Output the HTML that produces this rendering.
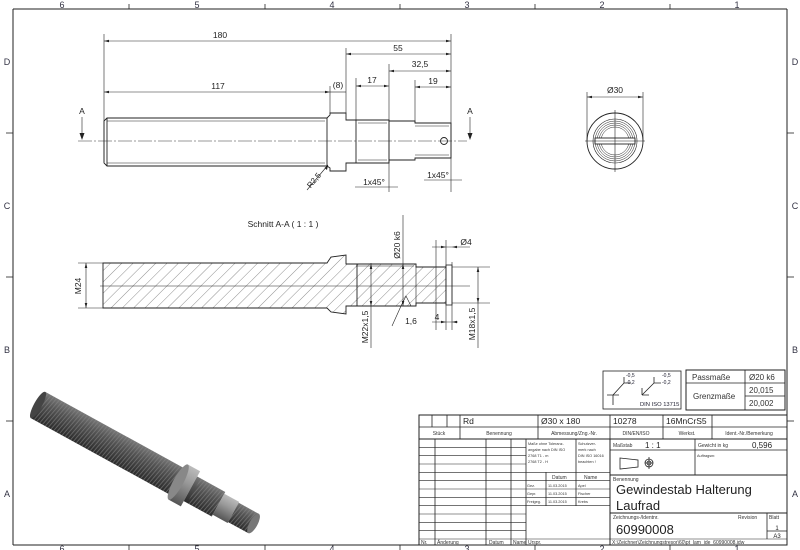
<!DOCTYPE html>
<html><head><meta charset="utf-8"><style>
html,body{margin:0;padding:0;background:#fff;}
svg{display:block;font-family:"Liberation Sans",sans-serif;}
</style></head><body>
<svg width="800" height="550" viewBox="0 0 800 550" xmlns="http://www.w3.org/2000/svg">
<defs>
<pattern id="hatch" patternUnits="userSpaceOnUse" width="8" height="8" patternTransform="rotate(45)">
<line x1="0" y1="0" x2="0" y2="8" stroke="#444" stroke-width="0.6"/>
</pattern>
<linearGradient id="rod" x1="0" y1="0" x2="0" y2="1">
<stop offset="0" stop-color="#777"/><stop offset="0.35" stop-color="#555"/><stop offset="1" stop-color="#2a2a2a"/>
</linearGradient>
<linearGradient id="rodl" x1="0" y1="0" x2="0" y2="1">
<stop offset="0" stop-color="#bbb"/><stop offset="0.4" stop-color="#999"/><stop offset="1" stop-color="#555"/>
</linearGradient>
<pattern id="thr" patternUnits="userSpaceOnUse" width="3.2" height="40" patternTransform="skewX(-12)">
<rect width="3.2" height="40" fill="none"/><line x1="0.5" y1="0" x2="0.5" y2="40" stroke="#888" stroke-width="0.9" opacity="0.6"/>
</pattern>
</defs>
<g stroke="#222" fill="none" stroke-width="1">
<line x1="13" y1="9" x2="787" y2="9"/>
<line x1="13" y1="9" x2="13" y2="545"/>
<line x1="787" y1="9" x2="787" y2="545"/>
<line x1="13" y1="545" x2="787" y2="545"/>
<g stroke-width="0.8">
<line x1="129" y1="4" x2="129" y2="9"/><line x1="265" y1="4" x2="265" y2="9"/><line x1="400" y1="4" x2="400" y2="9"/><line x1="535" y1="4" x2="535" y2="9"/><line x1="670" y1="4" x2="670" y2="9"/>
<line x1="129" y1="545" x2="129" y2="550"/><line x1="265" y1="545" x2="265" y2="550"/><line x1="400" y1="545" x2="400" y2="550"/><line x1="535" y1="545" x2="535" y2="550"/><line x1="670" y1="545" x2="670" y2="550"/>
<line x1="6" y1="133" x2="13" y2="133"/><line x1="6" y1="277" x2="13" y2="277"/><line x1="6" y1="421" x2="13" y2="421"/>
<line x1="787" y1="133" x2="794" y2="133"/><line x1="787" y1="277" x2="794" y2="277"/><line x1="787" y1="421" x2="794" y2="421"/>
</g>
</g>
<g font-size="9" fill="#334" text-anchor="middle">
<text x="62" y="8">6</text><text x="197" y="8">5</text><text x="332" y="8">4</text><text x="467" y="8">3</text><text x="602" y="8">2</text><text x="737" y="8">1</text>
<text x="62" y="552">6</text><text x="197" y="552">5</text><text x="332" y="552">4</text><text x="467" y="552">3</text><text x="602" y="552">2</text><text x="737" y="552">1</text>
<text x="7" y="65">D</text><text x="7" y="209">C</text><text x="7" y="353">B</text><text x="7" y="497">A</text>
<text x="795" y="65">D</text><text x="795" y="209">C</text><text x="795" y="353">B</text><text x="795" y="497">A</text>
</g>

<g stroke="#222" fill="none" stroke-width="0.9">
<path d="M104,121 L107,118 L327,118 L330,115 L330,113 L346,113 L346,120 L389,120 L389,121 L415,121 L415,123 L451,123 L451,158 L415,158 L415,160 L389,160 L389,163 L346,163 L346,171 L330,171 L330,168 L327,166 L107,166 L104,163 Z"/>
<line x1="107" y1="118" x2="107" y2="166"/><line x1="327" y1="118" x2="327" y2="166"/>
<line x1="107" y1="121" x2="325" y2="121" stroke-width="0.5"/><line x1="107" y1="163" x2="325" y2="163" stroke-width="0.5"/>
<line x1="356" y1="120" x2="356" y2="163"/><line x1="389" y1="120" x2="389" y2="163"/>
<line x1="358" y1="123" x2="387" y2="123" stroke-width="0.5"/><line x1="358" y1="160" x2="387" y2="160" stroke-width="0.5"/>
<line x1="415" y1="126" x2="449" y2="126" stroke-width="0.5"/><line x1="415" y1="155" x2="449" y2="155" stroke-width="0.5"/>
<circle cx="444" cy="141" r="3.5"/>
</g>
<line x1="78" y1="141" x2="467" y2="141" stroke="#333" stroke-width="0.6" stroke-dasharray="14,2,2,2"/>
<g stroke="#222" stroke-width="0.6" fill="none">
<line x1="104" y1="34" x2="104" y2="162"/><line x1="451" y1="34" x2="451" y2="192"/>
<line x1="346" y1="48" x2="346" y2="113"/><line x1="389" y1="64" x2="389" y2="192"/>
<line x1="356" y1="78" x2="356" y2="120"/><line x1="415" y1="80" x2="415" y2="123"/><line x1="330" y1="86" x2="330" y2="113"/>
<line x1="104" y1="41" x2="451" y2="41"/><line x1="346" y1="54" x2="451" y2="54"/><line x1="389" y1="71" x2="451" y2="71"/>
<line x1="356" y1="86" x2="389" y2="86"/><line x1="415" y1="87" x2="451" y2="87"/><line x1="104" y1="92" x2="330" y2="92"/><line x1="330" y1="92" x2="346" y2="92"/>
<line x1="355" y1="187" x2="398" y2="187"/>
<line x1="424" y1="180" x2="462" y2="180"/>
<line x1="307" y1="190" x2="328" y2="165"/>
<line x1="82" y1="117" x2="82" y2="136"/><line x1="470" y1="117" x2="470" y2="136"/>
</g>
<g fill="#222">
<path d="M82,140 l-2.5,-7 h5z"/><path d="M470,140 l-2.5,-7 h5z"/>
<path d="M104,41 l5,-1.3 v2.6z"/><path d="M451,41 l-5,-1.3 v2.6z"/>
<path d="M346,54 l5,-1.3 v2.6z"/><path d="M451,54 l-5,-1.3 v2.6z"/>
<path d="M389,71 l5,-1.3 v2.6z"/><path d="M451,71 l-5,-1.3 v2.6z"/>
<path d="M356,86 l5,-1.3 v2.6z"/><path d="M389,86 l-5,-1.3 v2.6z"/>
<path d="M415,87 l5,-1.3 v2.6z"/><path d="M451,87 l-5,-1.3 v2.6z"/>
<path d="M104,92 l5,-1.3 v2.6z"/><path d="M330,92 l-5,-1.3 v2.6z"/>
<path d="M328,165 l-1,5 l-2.5,-2z"/>
</g>
<g font-size="8.5" fill="#222" text-anchor="middle">
<text x="220" y="38">180</text><text x="398" y="51">55</text><text x="420" y="67">32,5</text>
<text x="372" y="83">17</text><text x="433" y="84">19</text><text x="218" y="89">117</text><text x="338" y="88">(8)</text>
<text x="82" y="114">A</text><text x="470" y="114">A</text>
<text x="374" y="185">1x45°</text><text x="438" y="178">1x45°</text>
<text transform="translate(316,182) rotate(-50)" font-size="8">R2,5</text>
</g>

<g stroke="#222" fill="none" stroke-width="0.9">
<circle cx="615" cy="141" r="28"/>
<circle cx="615" cy="141" r="22" stroke-width="0.6"/>
<circle cx="615" cy="141" r="20" stroke-width="0.5"/>
<circle cx="615" cy="141" r="18" stroke-width="0.5"/>
<circle cx="615" cy="141" r="16" stroke-width="0.5"/>
<circle cx="615" cy="141" r="14" stroke-width="0.5"/>
<rect x="595" y="138" width="40" height="6" fill="#fff"/>
<line x1="585" y1="141" x2="645" y2="141" stroke-width="0.6"/>
<line x1="615" y1="110" x2="615" y2="172" stroke-width="0.6"/>
<line x1="587" y1="92" x2="587" y2="141" stroke-width="0.6"/><line x1="643" y1="92" x2="643" y2="141" stroke-width="0.6"/>
<line x1="587" y1="97" x2="643" y2="97" stroke-width="0.6"/>
</g>
<g fill="#222"><path d="M587,97 l5,-1.3 v2.6z"/><path d="M643,97 l-5,-1.3 v2.6z"/></g>
<text x="615" y="93" font-size="8.5" text-anchor="middle" fill="#222">Ø30</text>

<text x="283" y="227" font-size="8.5" text-anchor="middle" fill="#222">Schnitt A-A ( 1 : 1 )</text>
<path d="M103,263 L327,263 L331,257 L346,255 L346,264 L416,264 L416,267 L446,267 L446,303 L416,303 L416,306 L346,306 L346,314 L331,312 L327,308 L103,308 Z" fill="url(#hatch)" stroke="#222" stroke-width="0.9"/>
<rect x="446" y="265" width="6" height="40" fill="#fff" stroke="#222" stroke-width="0.8"/>
<g stroke="#222" stroke-width="0.6" fill="none">
<line x1="357" y1="264" x2="357" y2="306" stroke-width="0.9"/>
<line x1="416" y1="264" x2="416" y2="306"/>
<line x1="356" y1="266" x2="414" y2="266"/>
<line x1="100" y1="286" x2="470" y2="286"/>
<line x1="78" y1="263" x2="103" y2="263"/><line x1="78" y1="308" x2="103" y2="308"/><line x1="86" y1="263" x2="86" y2="308"/>
<line x1="403" y1="215" x2="403" y2="306"/>
<line x1="371" y1="263" x2="371" y2="348"/>
<line x1="452" y1="267" x2="490" y2="267"/><line x1="452" y1="303" x2="490" y2="303"/><line x1="478" y1="267" x2="478" y2="348"/>
<line x1="436" y1="240" x2="436" y2="330"/><line x1="446" y1="240" x2="446" y2="330"/><line x1="452" y1="262" x2="452" y2="330"/>
<line x1="432" y1="247" x2="470" y2="247"/><line x1="432" y1="322" x2="458" y2="322"/>
<path d="M406,296 L401,306 L411,306 Z"/><line x1="401" y1="306" x2="392" y2="326"/>
</g>
<g fill="#222">
<path d="M86,263 l-1.3,5 h2.6z"/><path d="M86,308 l-1.3,-5 h2.6z"/>
<path d="M403,264 l-1.3,5 h2.6z"/><path d="M403,306 l-1.3,-5 h2.6z"/>
<path d="M371,264 l-1.3,5 h2.6z"/><path d="M371,306 l-1.3,-5 h2.6z"/>
<path d="M478,267 l-1.3,5 h2.6z"/><path d="M478,303 l-1.3,-5 h2.6z"/>
<path d="M446,247 l-5,-1.3 v2.6z"/><path d="M452,247 l5,-1.3 v2.6z"/>
<path d="M446,322 l-5,-1.3 v2.6z"/><path d="M452,322 l5,-1.3 v2.6z"/>
</g>
<g font-size="8.5" fill="#222" text-anchor="middle">
<text transform="translate(81,286) rotate(-90)">M24</text>
<text transform="translate(400,245) rotate(-90)">Ø20 k6</text>
<text transform="translate(368,327) rotate(-90)">M22x1,5</text>
<text transform="translate(475,324) rotate(-90)">M18x1,5</text>
<text x="466" y="245">Ø4</text><text x="437" y="320">4</text><text x="411" y="324">1,6</text>
</g>

<g transform="translate(38,405) rotate(28.8)">
<rect x="0" y="-15" width="162" height="30" fill="url(#rod)"/>
<rect x="0" y="-15" width="162" height="30" fill="url(#thr)"/>
<ellipse cx="0" cy="0" rx="4" ry="15" fill="#444"/>
<rect x="160" y="-20" width="14" height="40" fill="url(#rodl)"/>
<ellipse cx="160" cy="0" rx="5" ry="20" fill="#888"/>
<rect x="174" y="-14" width="32" height="28" fill="url(#rod)"/>
<rect x="178" y="-14" width="28" height="28" fill="url(#thr)"/>
<rect x="206" y="-12" width="17" height="24" fill="url(#rodl)"/>
<rect x="223" y="-11" width="23" height="22" fill="url(#rod)"/>
<rect x="223" y="-11" width="23" height="22" fill="url(#thr)"/>
<ellipse cx="246" cy="0" rx="4" ry="11" fill="#777"/>
</g>

<g stroke="#222" fill="none" stroke-width="0.8">
<rect x="603" y="371" width="78" height="38"/>
<path d="M607,395 h12 m-6,0 v10 m0,-10 l11,-12 v-6 m0,6 h7"/>
<path d="M642,395 l12,-12 m-12,12 v-7 m0,7 h7 m5,-12 v-6 m0,6 h7" />
<rect x="686" y="370" width="99" height="40" stroke-width="1"/>
<line x1="745" y1="370" x2="745" y2="410"/><line x1="686" y1="383" x2="785" y2="383"/><line x1="745" y1="396" x2="785" y2="396"/>
</g>
<g font-size="5" fill="#223"><text x="626" y="377">-0,5</text><text x="626" y="384">-0,2</text><text x="662" y="377">-0,5</text><text x="662" y="384">-0,2</text></g>
<text x="640" y="406" font-size="5.8" fill="#223">DIN ISO 13715</text>
<g font-size="8" fill="#333">
<text x="692" y="380">Passmaße</text><text x="693" y="399">Grenzmaße</text>
<text x="749" y="380">Ø20 k6</text><text x="749" y="393">20,015</text><text x="749" y="406">20,002</text>
</g>

<g stroke="#222" fill="none" stroke-width="0.8">
<rect x="419" y="415" width="368" height="130" stroke-width="1"/>
<line x1="419" y1="427" x2="787" y2="427"/><line x1="419" y1="439" x2="787" y2="439" stroke-width="1"/>
<line x1="432" y1="415" x2="432" y2="427"/><line x1="447" y1="415" x2="447" y2="427"/>
<line x1="460" y1="415" x2="460" y2="439"/><line x1="538" y1="415" x2="538" y2="439"/><line x1="610" y1="415" x2="610" y2="439"/><line x1="663" y1="415" x2="663" y2="439"/><line x1="712" y1="415" x2="712" y2="439"/>
<g stroke-width="0.6">
<line x1="419" y1="447.3" x2="526" y2="447.3"/><line x1="419" y1="455.7" x2="526" y2="455.7"/><line x1="419" y1="464" x2="526" y2="464"/>
<line x1="419" y1="472.3" x2="610" y2="472.3"/><line x1="419" y1="480.7" x2="610" y2="480.7"/><line x1="419" y1="489" x2="610" y2="489"/>
<line x1="419" y1="497.3" x2="610" y2="497.3"/><line x1="419" y1="505.7" x2="610" y2="505.7"/><line x1="419" y1="514" x2="526" y2="514"/>
<line x1="419" y1="522.3" x2="526" y2="522.3"/><line x1="419" y1="530.7" x2="526" y2="530.7"/><line x1="419" y1="539" x2="787" y2="539"/>
</g>
<line x1="435" y1="439" x2="435" y2="545"/><line x1="486" y1="439" x2="486" y2="545"/><line x1="511" y1="439" x2="511" y2="545"/><line x1="526" y1="439" x2="526" y2="545"/>
<line x1="576" y1="439" x2="576" y2="505.7"/><line x1="546" y1="472.3" x2="546" y2="505.7"/>
<line x1="610" y1="439" x2="610" y2="545" stroke-width="1"/>
<line x1="610" y1="450" x2="787" y2="450"/><line x1="695" y1="439" x2="695" y2="475"/>
<line x1="610" y1="475" x2="787" y2="475" stroke-width="1"/><line x1="610" y1="513" x2="787" y2="513" stroke-width="1"/>
<line x1="767" y1="513" x2="767" y2="539"/><line x1="767" y1="531" x2="787" y2="531"/>
<path d="M620,458 l18,2 v7 l-18,2z M645,463 h8"/><circle cx="649" cy="463" r="4"/><circle cx="649" cy="463" r="2"/><line x1="649" y1="457" x2="649" y2="469"/>
</g>
<g fill="#222" font-size="8.5">
<text x="463" y="424">Rd</text><text x="541" y="424">Ø30 x 180</text><text x="613" y="424">10278</text><text x="666" y="424">16MnCrS5</text>
</g>
<g fill="#333" font-size="5" text-anchor="middle">
<text x="439" y="435">Stück</text><text x="499" y="435">Benennung</text><text x="574" y="435">Abmessung/Zng.-Nr.</text><text x="636" y="435">DIN/EN/ISO</text><text x="687" y="435">Werkst.</text><text x="749" y="435">Ident.-Nr./Bemerkung</text>
</g>
<g fill="#333" font-size="3.8">
<text x="528" y="445">Maße ohne Toleranz-</text><text x="528" y="451">angabe nach DIN ISO</text><text x="528" y="457">2768 T1 - m</text><text x="528" y="463">2768 T2 - H</text>
<text x="578" y="445">Schutzver-</text><text x="578" y="451">merk nach</text><text x="578" y="457">DIN ISO 16016</text><text x="578" y="463">beachten !</text>
<text x="527" y="487">Gez.</text><text x="527" y="495">Gepr.</text><text x="527" y="503">Freigeg.</text>
<text x="548" y="487">11.03.2015</text><text x="548" y="495">11.03.2015</text><text x="548" y="503">11.03.2015</text>
<text x="578" y="487">Apel</text><text x="578" y="495">Fischer</text><text x="578" y="503">Krebs</text>
<text x="697" y="457">Auftragsnr.</text>
</g>
<g fill="#333" font-size="5">
<text x="552" y="479">Datum</text><text x="584" y="479">Name</text>
<text x="613" y="447">Maßstab</text><text x="698" y="447">Gewicht in kg</text>
<text x="613" y="481">Benennung</text><text x="613" y="519">Zeichnungs-/Identnr.</text><text x="738" y="519">Revision</text><text x="769" y="519">Blatt</text>
<text x="421" y="544">Nr.</text><text x="437" y="544">Änderung</text><text x="489" y="544">Datum</text><text x="513" y="544">Name</text><text x="528" y="544">Urspr.</text>
<text x="612" y="544">X:\Zeichner\Zeichnungstresor\60\pt_lam_ide_60990008.idw</text>
</g>
<g fill="#222">
<text x="645" y="448" font-size="8">1 : 1</text><text x="752" y="448" font-size="8">0,596</text>
<text x="616" y="494" font-size="13">Gewindestab Halterung</text><text x="616" y="510" font-size="13">Laufrad</text>
<text x="616" y="534" font-size="13">60990008</text>
<text x="777" y="530" font-size="6" text-anchor="middle">1</text><text x="777" y="538" font-size="6" text-anchor="middle">A3</text>
</g>
</svg>
</body></html>
